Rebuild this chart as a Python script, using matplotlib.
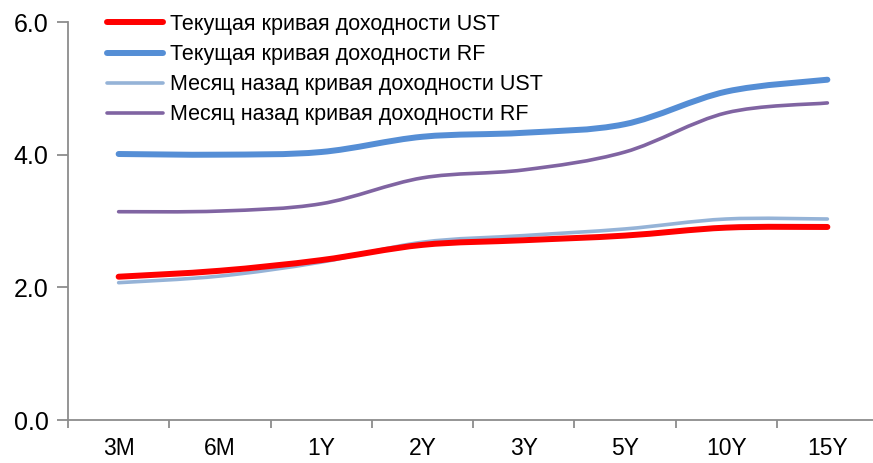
# Yield curves: UST vs RF, now and a month ago
import matplotlib
matplotlib.use("Agg")
import matplotlib.pyplot as plt
from matplotlib import font_manager
from matplotlib.path import Path
from matplotlib.patches import PathPatch
from matplotlib.lines import Line2D

# Data
tenors = ["3M", "6M", "1Y", "2Y", "3Y", "5Y", "10Y", "15Y"]
ust_now = [2.16, 2.25, 2.41, 2.64, 2.71, 2.78, 2.90, 2.91]
rf_now = [4.01, 4.00, 4.04, 4.27, 4.33, 4.46, 4.95, 5.13]
ust_month_ago = [2.07, 2.17, 2.38, 2.68, 2.78, 2.88, 3.03, 3.03]
rf_month_ago = [3.14, 3.15, 3.26, 3.65, 3.77, 4.04, 4.63, 4.78]

labels = ["Текущая кривая доходности UST",
          "Текущая кривая доходности RF",
          "Месяц назад кривая доходности UST",
          "Месяц назад кривая доходности RF"]

# Font
names = {f.name for f in font_manager.fontManager.ttflist}
if "Liberation Sans Narrow" in names:
    plt.rcParams["font.family"] = ["Liberation Sans Narrow", "DejaVu Sans"]
else:
    plt.rcParams["font.family"] = ["Liberation Sans", "DejaVu Sans"]


def smooth_path(xs, ys):
    # Excel-like smoothed line: cubic Bezier through every point
    verts = [(xs[0], ys[0])]
    codes = [Path.MOVETO]
    n = len(xs)
    for i in range(n - 1):
        p0 = (xs[max(i - 1, 0)], ys[max(i - 1, 0)])
        p1 = (xs[i], ys[i])
        p2 = (xs[i + 1], ys[i + 1])
        p3 = (xs[min(i + 2, n - 1)], ys[min(i + 2, n - 1)])
        c1 = (p1[0] + (p2[0] - p0[0]) / 6, p1[1] + (p2[1] - p0[1]) / 6)
        c2 = (p2[0] - (p3[0] - p1[0]) / 6, p2[1] - (p3[1] - p1[1]) / 6)
        verts += [c1, c2, p2]
        codes += [Path.CURVE4] * 3
    return Path(verts, codes)


fig = plt.figure(figsize=(8.73, 4.63), dpi=100)
ax = fig.add_axes([68 / 873, 1 - 420 / 463, 810 / 873, 398 / 463])

series = [
    (ust_now, "#ff0000", 4.3),
    (rf_now, "#558ed5", 4.3),
    (ust_month_ago, "#95b3d7", 2.6),
    (rf_month_ago, "#8064a2", 2.6),
]
x = list(range(len(tenors)))
# draw month-ago UST below current UST
order = [1, 3, 2, 0]
for k in order:
    vals, col, lw = series[k]
    ax.add_patch(PathPatch(smooth_path(x, vals), facecolor="none",
                           edgecolor=col, lw=lw, capstyle="round",
                           joinstyle="round", zorder=3))

ax.set_xlim(-0.5, 7.5)
ax.set_ylim(0, 6)
ax.set_yticks([0, 2, 4, 6])
ax.set_yticklabels(["0.0", "2.0", "4.0", "6.0"])
ax.set_xticks(x)
ax.set_xticklabels(tenors)
ax.set_xticks([i + 0.5 for i in range(-1, 7)], minor=True)

for s in ["top", "right"]:
    ax.spines[s].set_visible(False)
for s in ["left", "bottom"]:
    ax.spines[s].set_color("#8c8c8c")
    ax.spines[s].set_linewidth(1.3)

ax.tick_params(axis="y", length=8, width=1.3, color="#8c8c8c",
               labelsize=18, pad=6)
ax.tick_params(axis="x", which="major", length=0, labelsize=16.5, pad=12)
ax.tick_params(axis="x", which="minor", length=6, width=1.3, color="#8c8c8c")

handles = [Line2D([], [], color=c, lw=lw, solid_capstyle="round")
           for _, c, lw in series]
fig.legend(handles, labels, loc="upper left",
           bbox_to_anchor=(107 / 873, 1 - 14 / 463), frameon=False,
           fontsize=15.5, handlelength=2.6, handletextpad=0.32,
           labelspacing=0.42, borderpad=0, borderaxespad=0)

fig.savefig("out.png", dpi=100)
